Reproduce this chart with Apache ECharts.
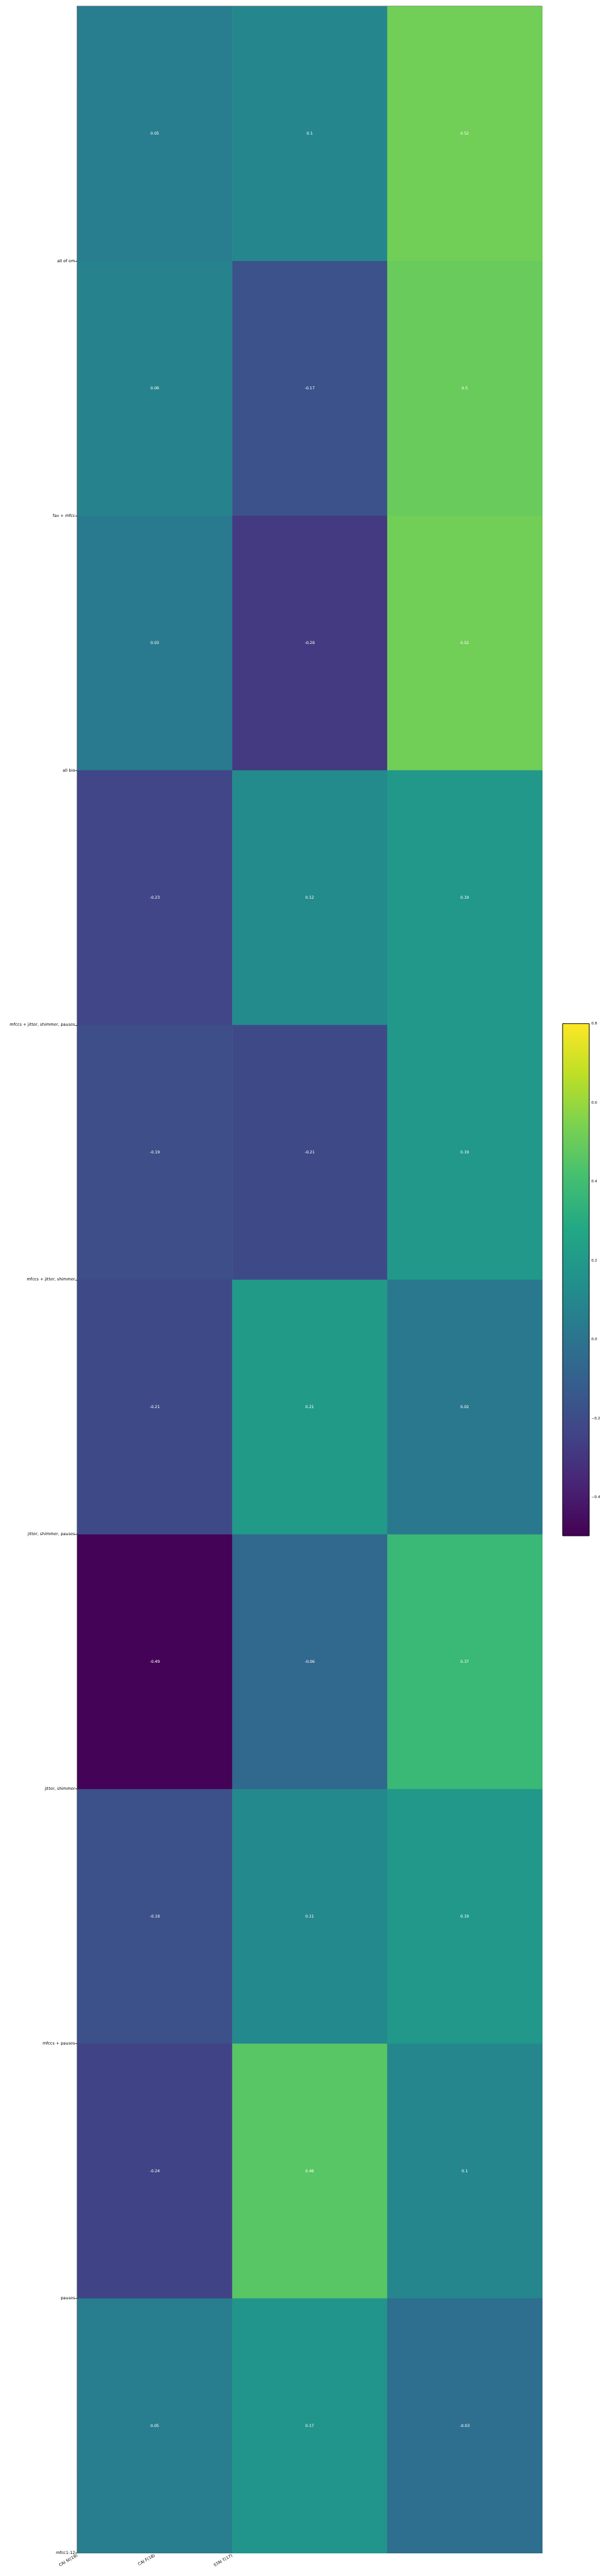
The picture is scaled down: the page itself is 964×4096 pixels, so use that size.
<!DOCTYPE html>
<html><head><meta charset="utf-8">
<script src="https://cdn.jsdelivr.net/npm/echarts@6/dist/echarts.min.js"></script>
<style>html,body{margin:0;padding:0;background:#fff}#c{width:964px;height:4096px}</style>
</head><body><div id="c"></div>
<script>
const rowLabels = ['all of em','fav + mfcc','all bio','mfccs + jitter, shimmer, pauses','mfccs + jitter, shimmer','jitter, shimmer, pauses','jitter, shimmer','mfccs + pauses','pauses','mfcc1-12'];
const colLabels = ['CAI St(19)','CAI F(18)','STAI T(17)'];
const colCAISt = [0.05, 0.08, 0.03, -0.23, -0.19, -0.21, -0.49, -0.18, -0.24, 0.05];
const colCAIF  = [0.1, -0.17, -0.28, 0.12, -0.21, 0.21, -0.06, 0.11, 0.46, 0.17];
const colSTAIT = [0.52, 0.5, 0.52, 0.19, 0.19, 0.02, 0.37, 0.19, 0.1, -0.03];
const colLabelPos = [0, 0.5, 1];
const rowLabelPos = [1, 2, 3, 4, 5, 6, 7, 8, 9, 10];
const colorbarTicks = [-0.4, -0.2, 0, 0.2, 0.4, 0.6, 0.8];
const vmin = -0.497, vmax = 0.8;
const viridis = ['#440154','#482475','#414487','#355f8d','#2a788e','#21918c','#22a884','#44bf70','#7ad151','#bddf26','#fde725'];

const cols = [colCAISt, colCAIF, colSTAIT];
const cells = [];
cols.forEach((arr, c) => arr.forEach((v, r) => cells.push([c, r, v])));

const FONT = 'DejaVu Sans';
const chart = echarts.init(document.getElementById('c'), null, {renderer: 'canvas'});
chart.setOption({
  animation: false,
  backgroundColor: '#ffffff',
  grid: [
    {left: 122.9, top: 10, width: 739.5, height: 4049.5, show: true, borderColor: '#000', borderWidth: 0.8, backgroundColor: 'transparent', containLabel: false},
    {left: 895.1, top: 1627.7, width: 42.1, height: 814.2, show: true, borderColor: '#000', borderWidth: 0.8, backgroundColor: 'transparent', containLabel: false}
  ],
  xAxis: [
    {gridIndex: 0, type: 'value', min: 0, max: 3,
     axisLine: {show: true, lineStyle: {color: '#000', width: 0.8}},
     axisTick: {show: true, customValues: colLabelPos, length: 3.3, lineStyle: {color: '#000', width: 0.8}},
     axisLabel: {show: true, customValues: colLabelPos, rotate: 30, margin: 3.5, fontSize: 6.5, fontFamily: FONT, color: '#000',
       formatter: v => colLabels[Math.round(v * 2)] || ''},
     splitLine: {show: false}},
    {gridIndex: 1, type: 'value', min: 0, max: 1, show: false}
  ],
  yAxis: [
    {gridIndex: 0, type: 'value', min: 0, max: 10, inverse: true,
     axisLine: {show: true, lineStyle: {color: '#000', width: 0.8}},
     axisTick: {show: true, customValues: rowLabelPos, length: 3.3, lineStyle: {color: '#000', width: 0.8}},
     axisLabel: {show: true, customValues: rowLabelPos, margin: 3.5, fontSize: 6.5, fontFamily: FONT, color: '#000',
       formatter: v => rowLabels[Math.round(v) - 1] || ''},
     splitLine: {show: false}},
    {gridIndex: 1, type: 'value', min: vmin, max: vmax, position: 'right',
     axisLine: {show: false},
     axisTick: {show: true, customValues: colorbarTicks, length: 3.3, lineStyle: {color: '#000', width: 0.8}},
     axisLabel: {show: true, customValues: colorbarTicks, margin: 3.5, fontSize: 5.7, fontFamily: FONT, color: '#000',
       formatter: v => { const s = Math.abs(v).toFixed(1); return (v < -1e-9 ? '\u2212' : '') + s; }},
     splitLine: {show: false}}
  ],
  visualMap: [{type: 'continuous', show: false, min: vmin, max: vmax, dimension: 2, seriesIndex: 0, inRange: {color: viridis}}],
  series: [
    {type: 'custom', xAxisIndex: 0, yAxisIndex: 0, data: cells, clip: false,
     renderItem: (params, api) => {
       const x = api.value(0), y = api.value(1), v = api.value(2);
       const p0 = api.coord([x, y]), p1 = api.coord([x + 1, y + 1]);
       const rx = Math.min(p0[0], p1[0]), ry = Math.min(p0[1], p1[1]);
       const w = Math.abs(p1[0] - p0[0]), h = Math.abs(p1[1] - p0[1]);
       return {type: 'group', children: [
         {type: 'rect', shape: {x: rx, y: ry, width: w + 0.5, height: h + 0.5}, style: {fill: api.visual('color')}},
         {type: 'text', x: rx + w / 2, y: ry + h / 2, style: {text: String(v), fill: '#ffffff', align: 'center', verticalAlign: 'middle', fontSize: 6.2, fontFamily: FONT}}
       ]};
     }},
    {type: 'custom', xAxisIndex: 1, yAxisIndex: 1, data: [[0, vmin, vmax]], clip: false,
     renderItem: (params, api) => {
       const pTop = api.coord([0, api.value(2)]), pBot = api.coord([1, api.value(1)]);
       const stops = viridis.map((c, i) => ({offset: 1 - i / (viridis.length - 1), color: c}));
       stops.reverse();
       return {type: 'rect', shape: {x: pTop[0], y: pTop[1], width: pBot[0] - pTop[0], height: pBot[1] - pTop[1]},
         style: {fill: new echarts.graphic.LinearGradient(0, 0, 0, 1, stops), stroke: '#000', lineWidth: 0.8}};
     }}
  ]
});
</script></body></html>
